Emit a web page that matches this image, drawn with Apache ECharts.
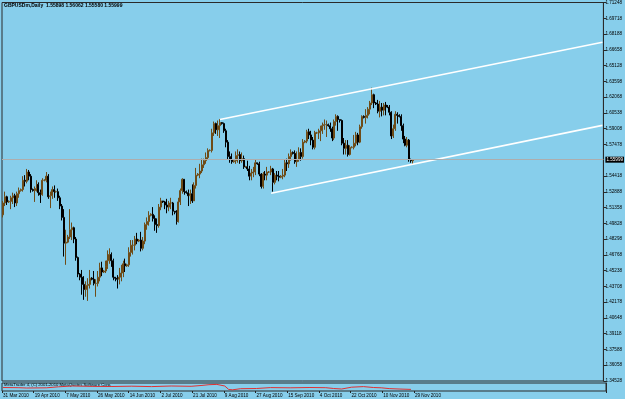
<!DOCTYPE html>
<html><head><meta charset="utf-8">
<script src="https://cdn.jsdelivr.net/npm/echarts@6/dist/echarts.min.js"></script>
<style>html,body{margin:0;padding:0;background:#87CEEB;}#c{width:625px;height:399px;}</style>
</head><body><div id="c"></div>
<script>
// ---- data (GBPUSDm, Daily; one bar per trading day incl. Sundays) ----
const symbolTitle = 'GBPUSDm,Daily';
const firstOpen = 1.5065;
const lastOpen = 1.55898;
const closes = [
1.5180,1.5240,1.5190,1.5195,1.5230,1.5250,1.5180,1.5270,1.5300,
1.5310,1.5400,1.5390,1.5480,1.5440,1.5310,
1.5300,1.5320,1.5360,1.5280,1.5260,1.5400,
1.5400,1.5440,1.5240,1.5250,1.5310,1.5290,
1.5290,1.5230,1.5150,1.5040,1.4790,1.4800,
1.4850,1.4920,1.4940,1.4830,1.4650,1.4490,
1.4460,1.4390,1.4340,1.4380,1.4390,1.4450,
1.4440,1.4400,1.4400,1.4460,1.4550,1.4510,
1.4520,1.4560,1.4620,1.4680,1.4620,1.4460,
1.4450,1.4440,1.4460,1.4500,1.4590,1.4570,
1.4580,1.4700,1.4770,1.4770,1.4830,1.4810,
1.4820,1.4740,1.4810,1.4970,1.5000,1.5060,
1.5070,1.5030,1.4970,1.4960,1.5140,1.5200,
1.5190,1.5160,1.5140,1.5180,1.5180,1.5100,
1.5090,1.5000,1.5190,1.5300,1.5410,1.5290,
1.5280,1.5250,1.5270,1.5200,1.5350,1.5450,
1.5460,1.5490,1.5550,1.5590,1.5620,1.5690,
1.5690,1.5860,1.5950,1.5890,1.5930,1.5960,
1.5950,1.5880,1.5770,1.5630,1.5600,1.5580,
1.5590,1.5640,1.5650,1.5590,1.5610,1.5530,
1.5530,1.5510,1.5440,1.5470,1.5480,1.5570,
1.5560,1.5460,1.5340,1.5460,1.5450,1.5480,
1.5480,1.5510,1.5380,1.5450,1.5440,1.5430,
1.5440,1.5450,1.5570,1.5560,1.5630,1.5670,
1.5660,1.5580,1.5600,1.5670,1.5630,1.5770,
1.5780,1.5870,1.5840,1.5790,1.5720,1.5860,
1.5860,1.5860,1.5880,1.5930,1.5940,1.5940,
1.5930,1.5900,1.5810,1.5970,1.6020,1.5990,
1.5980,1.5760,1.5710,1.5740,1.5650,1.5720,
1.5720,1.5760,1.5840,1.5770,1.5920,1.6020,
1.6010,1.6030,1.6090,1.6150,1.6230,1.6150,
1.6140,1.6070,1.6110,1.6080,1.6130,1.6120,
1.6110,1.6060,1.5830,1.5900,1.6040,1.6030,
1.6020,1.5930,1.5800,1.5740,1.5790,1.5600,
1.5590,1.55999
];
const highs = [
1.5200,1.5290,1.5250,1.5205,1.5250,1.5280,1.5270,1.5290,1.5330,
1.5320,1.5440,1.5450,1.5510,1.5500,1.5460,
1.5320,1.5340,1.5400,1.5380,1.5310,1.5420,
1.5410,1.5480,1.5460,1.5290,1.5340,1.5350,
1.5300,1.5320,1.5250,1.5170,1.5120,1.4920,
1.4870,1.5120,1.4990,1.4950,1.4850,1.4660,
1.4500,1.4530,1.4470,1.4420,1.4450,1.4530,
1.4460,1.4520,1.4440,1.4520,1.4600,1.4610,
1.4530,1.4620,1.4720,1.4740,1.4700,1.4640,
1.4460,1.4480,1.4550,1.4580,1.4620,1.4640,
1.4590,1.4750,1.4820,1.4820,1.4860,1.4890,
1.4830,1.4900,1.4850,1.4990,1.5040,1.5100,
1.5080,1.5140,1.5060,1.5030,1.5170,1.5230,
1.5200,1.5200,1.5220,1.5200,1.5230,1.5190,
1.5100,1.5110,1.5230,1.5320,1.5420,1.5410,
1.5300,1.5310,1.5310,1.5360,1.5380,1.5520,
1.5470,1.5560,1.5610,1.5610,1.5670,1.5710,
1.5700,1.5900,1.5970,1.5960,1.5980,1.5995,
1.5965,1.5960,1.5900,1.5790,1.5680,1.5660,
1.5600,1.5680,1.5700,1.5680,1.5670,1.5640,
1.5540,1.5590,1.5540,1.5510,1.5530,1.5600,
1.5570,1.5580,1.5470,1.5480,1.5490,1.5530,
1.5490,1.5540,1.5520,1.5470,1.5490,1.5490,
1.5450,1.5510,1.5600,1.5610,1.5660,1.5700,
1.5680,1.5690,1.5680,1.5720,1.5710,1.5800,
1.5790,1.5890,1.5900,1.5880,1.5820,1.5880,
1.5870,1.5900,1.5930,1.5960,1.5990,1.5980,
1.5950,1.5960,1.5920,1.5990,1.6040,1.6030,
1.5990,1.5990,1.5810,1.5790,1.5790,1.5740,
1.5730,1.5840,1.5870,1.5860,1.5940,1.6030,
1.6030,1.6090,1.6110,1.6170,1.6298,1.6240,
1.6160,1.6180,1.6170,1.6150,1.6150,1.6160,
1.6130,1.6130,1.6070,1.5940,1.6070,1.6060,
1.6040,1.6040,1.5950,1.5830,1.5820,1.5800,
1.5610,1.56062
];
const lows = [
1.5040,1.5150,1.5160,1.5180,1.5120,1.5170,1.5140,1.5150,1.5230,
1.5290,1.5290,1.5340,1.5370,1.5400,1.5280,
1.5290,1.5190,1.5290,1.5250,1.5180,1.5250,
1.5390,1.5380,1.5220,1.5130,1.5220,1.5230,
1.5280,1.5200,1.5120,1.5010,1.4660,1.4580,
1.4790,1.4830,1.4820,1.4790,1.4620,1.4460,
1.4430,1.4290,1.4240,1.4270,1.4230,1.4350,
1.4430,1.4380,1.4270,1.4370,1.4420,1.4470,
1.4500,1.4500,1.4540,1.4590,1.4560,1.4430,
1.4420,1.4350,1.4390,1.4420,1.4460,1.4510,
1.4560,1.4560,1.4660,1.4680,1.4720,1.4780,
1.4800,1.4710,1.4720,1.4780,1.4920,1.4960,
1.5050,1.5000,1.4910,1.4890,1.4940,1.5110,
1.5180,1.5120,1.5080,1.5100,1.5120,1.5060,
1.5070,1.4970,1.4990,1.5160,1.5270,1.5260,
1.5270,1.5150,1.5170,1.5180,1.5200,1.5320,
1.5440,1.5420,1.5470,1.5520,1.5560,1.5600,
1.5680,1.5670,1.5830,1.5850,1.5830,1.5810,
1.5940,1.5860,1.5720,1.5600,1.5570,1.5560,
1.5570,1.5560,1.5570,1.5560,1.5570,1.5510,
1.5520,1.5490,1.5400,1.5400,1.5430,1.5450,
1.5550,1.5440,1.5320,1.5320,1.5400,1.5400,
1.5470,1.5450,1.5290,1.5360,1.5400,1.5390,
1.5420,1.5410,1.5430,1.5490,1.5520,1.5590,
1.5650,1.5560,1.5530,1.5580,1.5590,1.5610,
1.5760,1.5760,1.5800,1.5740,1.5700,1.5700,
1.5850,1.5800,1.5780,1.5850,1.5890,1.5820,
1.5920,1.5870,1.5780,1.5790,1.5930,1.5880,
1.5960,1.5740,1.5650,1.5650,1.5630,1.5640,
1.5710,1.5700,1.5730,1.5740,1.5760,1.5900,
1.6000,1.5950,1.6000,1.6040,1.6130,1.6100,
1.6130,1.6050,1.6010,1.6020,1.6030,1.6030,
1.6100,1.6030,1.5800,1.5810,1.5880,1.5950,
1.6010,1.5880,1.5760,1.5730,1.5720,1.5580,
1.5570,1.55580
];
const bidPrice = 1.55999;
// price scale labels on the right axis
const priceTicks = [1.34528,1.36058,1.37588,1.39118,1.40648,1.42178,1.43708,1.45238,1.46768,1.48298,
  1.49828,1.51358,1.52888,1.54418,1.57478,1.59008,1.60538,1.62068,1.63598,1.65128,1.66658,1.68188,1.69718,1.71248];
const priceMin = 1.34528, priceMax = 1.71248;
// time scale labels (every 16 bars)
const dateLabels = ['31 Mar 2010','19 Apr 2010','7 May 2010','26 May 2010','14 Jun 2010','2 Jul 2010',
  '21 Jul 2010','9 Aug 2010','27 Aug 2010','15 Sep 2010','4 Oct 2010','22 Oct 2010','10 Nov 2010','29 Nov 2010'];
const labelEvery = 16;
const futureSlots = 96; // empty chart shift to the right
// trend channel lines: [bar index, price]
const upperLine = [[110, 1.5990], [304, 1.6740]];
const lowerLine = [[136, 1.5275], [304, 1.5933]];
// indicator sub-window (red line), [bar index, level]
const indicatorPts = [[0,3.5],[8,3.3],[12,3.0],[22,3.2],[28,4.2],[35,5.0],[45,4.6],[55,4.5],[65,4.8],[75,4.4],
  [85,5.0],[95,4.7],[100,5.5],[104,6.3],[108,6.6],[112,5.0],[114,1.5],[116,1.2],[120,2.3],[128,2.5],
  [135,3.4],[145,3.2],[155,3.5],[163,3.3],[167,2.5],[171,2.0],[176,3.8],[182,4.4],[187,3.5],[191,3.2],
  [195,2.4],[200,2.0],[206,1.6]];
const indicatorText = 'MetaTrader 4, (C) 2001-2010 MetaQuotes Software Corp.';

// ---- build ----
const nBars = closes.length;
const opens = closes.map((c, i) => i === 0 ? firstOpen : (i === nBars - 1 ? lastOpen : closes[i - 1]));
const categories = [];
{
  const d = new Date(Date.UTC(2010, 2, 31));
  const mon = ['Jan','Feb','Mar','Apr','May','Jun','Jul','Aug','Sep','Oct','Nov','Dec'];
  while (categories.length < nBars + futureSlots) {
    if (d.getUTCDay() !== 6) categories.push(d.getUTCDate() + ' ' + mon[d.getUTCMonth()] + ' ' + d.getUTCFullYear());
    d.setUTCDate(d.getUTCDate() + 1);
  }
}
const ohlc = closes.map((c, i) => [opens[i], c, lows[i], highs[i]]);
const indData = new Array(nBars).fill(null);
indicatorPts.forEach(p => { indData[p[0]] = p[1]; });
const titleText = symbolTitle + '  ' + [opens[nBars-1], highs[nBars-1], lows[nBars-1], closes[nBars-1]].map(v => v.toFixed(5)).join(' ');

const FONT = 'Liberation Sans';
const chart = echarts.init(document.getElementById('c'), null, {renderer: 'canvas'});
chart.setOption({
  animation: false,
  backgroundColor: '#87CEEB',
  grid: [
    {left: 2, right: 19, top: 2, height: 379, show: true, borderColor: '#2a2a2a', borderWidth: 1},
    {left: 2, right: 19, top: 383, height: 8, show: true, borderColor: '#2a2a2a', borderWidth: 1}
  ],
  xAxis: [
    {type: 'category', gridIndex: 0, data: categories, boundaryGap: true,
     axisLine: {show: false}, axisTick: {show: false}, axisLabel: {show: false}, splitLine: {show: false}},
    {type: 'category', gridIndex: 1, data: categories, boundaryGap: true,
     axisLine: {show: false},
     axisTick: {show: true, length: 2, lineStyle: {color: '#222'}, interval: (i) => i % labelEvery === 0 && i < nBars},
     axisLabel: {show: true, interval: (i) => i % labelEvery === 0 && i < nBars, align: 'left', margin: 2,
       formatter: (v, i) => dateLabels[i / labelEvery], fontSize: 4.6, fontFamily: FONT, color: '#000'},
     splitLine: {show: false}}
  ],
  yAxis: [
    {type: 'value', gridIndex: 0, position: 'right', min: priceMin, max: priceMax, scale: true,
     splitLine: {show: false},
     axisLine: {show: true, lineStyle: {color: '#2a2a2a'}},
     axisTick: {show: true, length: 3, customValues: priceTicks, lineStyle: {color: '#2a2a2a'}},
     axisLabel: {show: true, customValues: priceTicks, margin: 2, fontSize: 4.6, fontFamily: FONT, color: '#000',
       formatter: (v) => v.toFixed(5)}},
    {type: 'value', gridIndex: 1, position: 'right', min: 0, max: 8,
     splitLine: {show: false}, axisLine: {show: true, lineStyle: {color: '#2a2a2a'}},
     axisTick: {show: false}, axisLabel: {show: false}}
  ],
  series: [
    {type: 'candlestick', xAxisIndex: 0, yAxisIndex: 0, data: ohlc, barWidth: 1.5,
     itemStyle: {color: '#D08C2C', color0: '#000000', borderColor: '#6e4c18', borderColor0: '#000000', borderWidth: 1},
     emphasis: {disabled: true},
     markLine: {silent: true, symbol: 'none', animation: false,
       lineStyle: {color: '#adadad', width: 1, type: 'solid'},
       label: {show: true, position: 'end', distance: 2, formatter: bidPrice.toFixed(5),
         backgroundColor: '#000', color: '#fff', fontSize: 4.6, fontFamily: FONT, padding: [1, 1, 0, 1]},
       data: [{yAxis: bidPrice}]}},
    {type: 'line', xAxisIndex: 0, yAxisIndex: 0, data: upperLine, symbol: 'none', silent: true,
     lineStyle: {color: '#ffffff', width: 1.6}},
    {type: 'line', xAxisIndex: 0, yAxisIndex: 0, data: lowerLine, symbol: 'none', silent: true,
     lineStyle: {color: '#ffffff', width: 1.6}},
    {type: 'line', xAxisIndex: 1, yAxisIndex: 1, data: indData, connectNulls: true, symbol: 'none', silent: true,
     lineStyle: {color: '#e03030', width: 1}}
  ],
  graphic: [
    {type: 'text', left: 4, top: 3, silent: true,
     style: {text: titleText, fontSize: 5, fontFamily: FONT, fontWeight: 'bold', fill: '#000'}},
    {type: 'text', left: 4, top: 383, silent: true,
     style: {text: indicatorText, fontSize: 4.2, fontFamily: FONT, fill: '#000'}}
  ]
});
</script></body></html>
